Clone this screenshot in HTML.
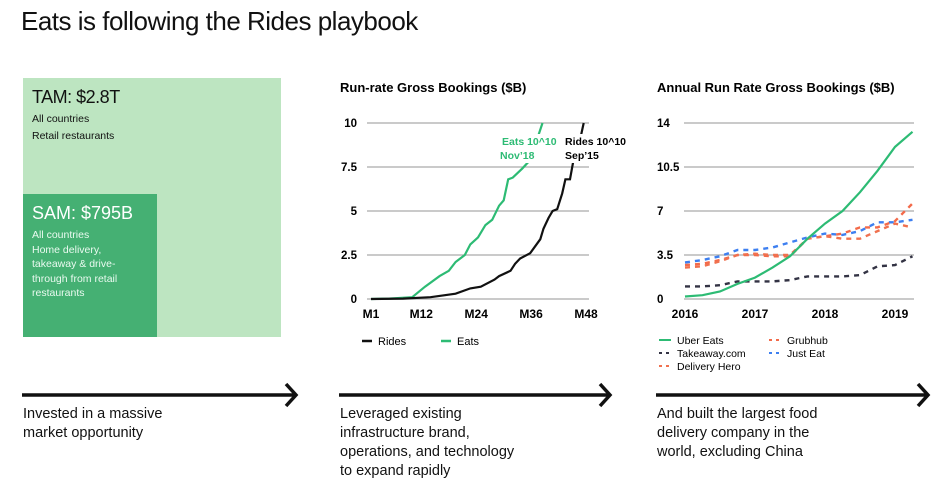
<!DOCTYPE html>
<html><head><meta charset="utf-8"><style>
body{margin:0;width:940px;height:494px;background:#fff;font-family:"Liberation Sans",sans-serif;position:relative;overflow:hidden;color:#111}
.abs{position:absolute}
.cap{font-size:14.5px;line-height:19px;color:#111}
</style></head><body>
<div class="abs" style="left:21px;top:6px;font-size:26px;letter-spacing:-0.5px">Eats is following the Rides playbook</div>

<div class="abs" style="left:23px;top:78px;width:258px;height:259px;background:#bde5c1"></div>
<div class="abs" style="left:32px;top:87px;font-size:18px;letter-spacing:-0.5px">TAM: $2.8T</div>
<div class="abs" style="left:32px;top:111px;font-size:10.5px;line-height:17px">All countries<br>Retail restaurants</div>
<div class="abs" style="left:23px;top:194px;width:134px;height:143px;background:#45b073"></div>
<div class="abs" style="left:32px;top:203px;font-size:18px;color:#fff">SAM: $795B</div>
<div class="abs" style="left:32px;top:228px;font-size:10.5px;line-height:14.5px;color:#eafaf0">All countries<br>Home delivery,<br>takeaway &amp; drive-<br>through from retail<br>restaurants</div>

<svg class="abs" style="left:0;top:0" width="940" height="494">
<g stroke="#111" stroke-width="3.5" fill="none">
<line x1="22" y1="395" x2="294" y2="395"/><polyline points="286,384 296,395 286,406"/>
<line x1="339" y1="395" x2="608" y2="395"/><polyline points="600,384 610,395 600,406"/>
<line x1="656" y1="395" x2="926" y2="395"/><polyline points="918,384 928,395 918,406"/>
</g></svg>
<div class="abs cap" style="left:23px;top:405px">Invested in a massive<br>market opportunity</div>
<div class="abs cap" style="left:340px;top:405px">Leveraged existing<br>infrastructure brand,<br>operations, and technology<br>to expand rapidly</div>
<div class="abs cap" style="left:657px;top:405px">And built the largest food<br>delivery company in the<br>world, excluding China</div>

<svg id="c1" class="abs" style="left:0;top:0" width="940" height="494"></svg>
<svg id="c2" class="abs" style="left:0;top:0" width="940" height="494"></svg>

<script>
const c1Ticks=[0,2.5,5,7.5,10];
const c1TickLabels=["0","2.5","5","7.5","10"];
const c1XTicks=[1,12,24,36,48];
const c1XLabels=["M1","M12","M24","M36","M48"];
const eatsMonths=[1,5,10,12.8,16,18,19.5,21.5,22.7,24.4,26,27.5,29,30,31,32,34,35.8,38.5];
const eatsValues=[0,0.02,0.1,0.7,1.3,1.6,2.1,2.5,3.1,3.5,4.2,4.5,5.3,5.6,6.8,6.9,7.4,7.9,10];
const ridesMonths=[1,8,14,19.5,22.7,25,28,29,31.5,32.5,33.6,35.8,38,38.7,39.8,40.7,41.7,42.8,43.5,44.5,45.2,46.5,47.5];
const ridesValues=[0,0.02,0.1,0.3,0.6,0.7,1.1,1.3,1.6,2.0,2.3,2.6,3.4,4.0,4.6,5.0,5.1,6.0,6.8,6.8,7.8,8.8,10];

const c2Ticks=[0,3.5,7,10.5,14];
const c2TickLabels=["0","3.5","7","10.5","14"];
const c2XTicks=[2016,2017,2018,2019];
const quarters=[2016,2016.25,2016.5,2016.75,2017,2017.25,2017.5,2017.75,2018,2018.25,2018.5,2018.75,2019,2019.25];
const uberEats=[0.2,0.3,0.6,1.2,1.7,2.5,3.4,4.8,6.0,7.0,8.5,10.2,12.1,13.3];
const justEat=[2.9,3.1,3.4,3.9,3.9,4.1,4.5,4.9,5.2,5.1,5.4,6.1,6.1,6.3];
const grubhub=[2.7,2.8,3.1,3.5,3.5,3.4,3.4,4.8,5.0,5.2,5.7,5.7,6.2,7.6];
const deliveryHero=[2.5,2.6,3.0,3.5,3.6,3.5,3.5,4.8,5.0,4.8,4.8,5.4,6.0,5.7];
const takeaway=[1.0,1.0,1.1,1.4,1.4,1.4,1.5,1.8,1.8,1.8,1.9,2.6,2.7,3.4];

const NS="http://www.w3.org/2000/svg";
function mk(p,tag,attrs,txt){const e=document.createElementNS(NS,tag);for(const k in attrs)e.setAttribute(k,attrs[k]);if(txt!==undefined)e.textContent=txt;p.appendChild(e);return e;}

// chart 1
const s1=document.getElementById('c1');
const x1=m=>371+(m-1)*(586-371)/47, y1=v=>299-v*17.6;
mk(s1,'text',{x:340,y:92,'font-size':13,'font-weight':'bold',},'Run-rate Gross Bookings ($B)');
c1Ticks.forEach((t,i)=>{
 const g=mk(s1,'line',{x1:367,x2:589,y1:y1(t),y2:y1(t),stroke:'#aaa','stroke-width':1.2});
 
 
 const l=mk(s1,'text',{x:357,y:y1(t)+4,'font-size':11.5,'font-weight':'bold','text-anchor':'end'},c1TickLabels[i]);
 
 
});
c1XTicks.forEach((t,i)=>{
 const l=mk(s1,'text',{x:x1(t),y:318,'font-size':12,'font-weight':'bold','text-anchor':'middle'},c1XLabels[i]);
 
 
});
function line(s,xs,ys,xf,yf,col,dash,w){
 const d=xs.map((x,i)=>(i?'L':'M')+xf(x).toFixed(1)+','+yf(ys[i]).toFixed(1)).join('');
 const a={d:d,stroke:col,'stroke-width':w,fill:'none'};if(dash)a['stroke-dasharray']=dash;
 return mk(s,'path',a);
}
const pe=line(s1,eatsMonths,eatsValues,x1,y1,'#2dbb74',null,2.2);


const pr=line(s1,ridesMonths,ridesValues,x1,y1,'#111',null,2.2);


mk(s1,'rect',{x:498,y:134,width:60,height:29,fill:'#fff'});
mk(s1,'rect',{x:563,y:134,width:66,height:29,fill:'#fff'});
mk(s1,'text',{x:502,y:145,'font-size':10.5,'font-weight':'bold',fill:'#2dbb74',},'Eats 10^10');
mk(s1,'text',{x:500,y:159,'font-size':10.5,'font-weight':'bold',fill:'#2dbb74'},'Nov\u201918');
mk(s1,'text',{x:565,y:145,'font-size':10.5,'font-weight':'bold',},'Rides 10^10');
mk(s1,'text',{x:565,y:159,'font-size':10.5,'font-weight':'bold'},'Sep\u201915');
mk(s1,'line',{x1:362,x2:372,y1:341,y2:341,stroke:'#111','stroke-width':2.5});
mk(s1,'text',{x:378,y:345,'font-size':11},'Rides');
mk(s1,'line',{x1:441,x2:451,y1:341,y2:341,stroke:'#2dbb74','stroke-width':2.5});
mk(s1,'text',{x:457,y:345,'font-size':11},'Eats');

// chart 2
const s2=document.getElementById('c2');
const x2=t=>685+(t-2016)*70, y2=v=>299-v*12.57;
mk(s2,'text',{x:657,y:92,'font-size':13,'font-weight':'bold',},'Annual Run Rate Gross Bookings ($B)');
c2Ticks.forEach((t,i)=>{
 const g=mk(s2,'line',{x1:684,x2:914,y1:y2(t),y2:y2(t),stroke:'#aaa','stroke-width':1.2});
 
 
 const l=mk(s2,'text',{x:657,y:y2(t)+4,'font-size':11.5,'font-weight':'bold'},c2TickLabels[i]);
 
 
});
c2XTicks.forEach(t=>{
 const l=mk(s2,'text',{x:x2(t),y:318,'font-size':12,'font-weight':'bold','text-anchor':'middle'},String(t));
 
 
});
const series=[[justEat,'#3d7ff0','just-eat-line'],[grubhub,'#f36a4a','grubhub-line'],[deliveryHero,'#f0714f','delivery-hero-line'],[takeaway,'#333344','takeaway-line']];
series.forEach(s=>{
 const p=line(s2,quarters,s[0],x2,y2,s[1],'5,5',2.4);
 
 
});
const pu=line(s2,quarters,uberEats,x2,y2,'#2dbb74',null,2.2);


const leg=[[659,340,'#2dbb74',null,'Uber Eats'],[659,353,'#333344','3,4','Takeaway.com'],[659,366,'#f0714f','3,4','Delivery Hero'],[769,340,'#f36a4a','3,4','Grubhub'],[769,353,'#3d7ff0','3,4','Just Eat']];
leg.forEach(e=>{
 const a={x1:e[0],x2:e[0]+12,y1:e[1],y2:e[1],stroke:e[2],'stroke-width':2};if(e[3])a['stroke-dasharray']=e[3];
 mk(s2,'line',a);
 const t=mk(s2,'text',{x:e[0]+18,y:e[1]+4,'font-size':10.5},e[4]);
 
 
});
</script>
</body></html>
